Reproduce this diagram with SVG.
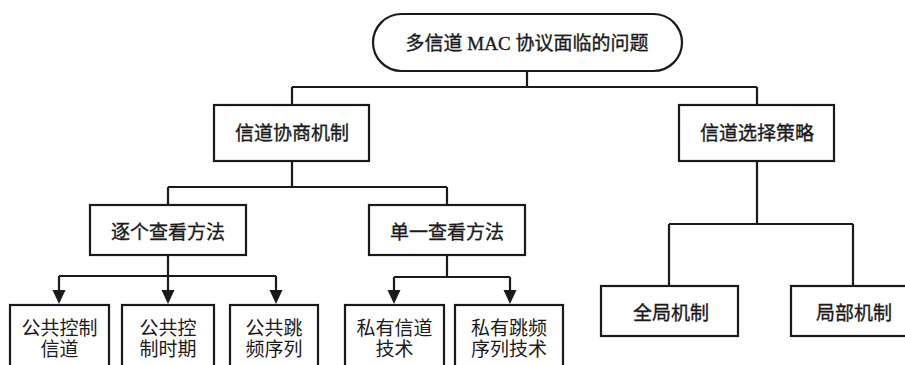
<svg xmlns="http://www.w3.org/2000/svg" width="905" height="365" viewBox="0 0 905 365">
<style>
.box{fill:#fff;stroke:#1a1a1a;stroke-width:2.2}
.ln{fill:none;stroke:#1a1a1a;stroke-width:2.2}
.ah{fill:#1a1a1a}
.t{font-family:"Liberation Serif","Noto Sans CJK SC",serif;fill:#1a1a1a;text-anchor:middle}
.t1{font-size:19px;font-weight:normal;stroke:#1a1a1a;stroke-width:0.35}
.t2{font-size:19px;font-weight:normal}
</style>
<defs>
<path id="arrow" d="M-6.5,-14 L6.5,-14 L0,0 Z"/>
</defs>
<rect width="905" height="365" fill="#fff"/>
<g id="connectors">
<path class="ln" d="M527,71 V87 M292,87 H757 M292,87 V105 M757,87 V105"/>
<path class="ln" d="M292,161 V187 M168,187 H447 M168,187 V205 M447,187 V205"/>
<path class="ln" d="M757,161 V224 M669,224 H853 M669,224 V286 M853,224 V286"/>
<path class="ln" d="M168,255 V276 M59,276 H276 M59,276 V292 M168,276 V292 M276,276 V292"/>
<path class="ln" d="M447,255 V277 M394,277 H510 M394,277 V292 M510,277 V292"/>
<use href="#arrow" class="ah" x="59" y="304"/>
<use href="#arrow" class="ah" x="168" y="304"/>
<use href="#arrow" class="ah" x="276" y="304"/>
<use href="#arrow" class="ah" x="394" y="304"/>
<use href="#arrow" class="ah" x="510" y="304"/>
</g>
<g id="root">
<rect class="box" x="373" y="14" width="309" height="57" rx="28.5" ry="28.5"/>
<text class="t t1" x="527" y="50">多信道 MAC 协议面临的问题</text>
</g>
<g id="n_negotiation">
<rect class="box" x="214" y="105" width="155" height="56"/>
<text class="t t1" x="292" y="140">信道协商机制</text>
</g>
<g id="n_selection">
<rect class="box" x="679" y="105" width="155" height="56"/>
<text class="t t1" x="757" y="140">信道选择策略</text>
</g>
<g id="n_onebyone">
<rect class="box" x="90" y="205" width="156" height="50"/>
<text class="t t1" x="168" y="239">逐个查看方法</text>
</g>
<g id="n_single">
<rect class="box" x="369" y="205" width="156" height="50"/>
<text class="t t1" x="447" y="239">单一查看方法</text>
</g>
<g id="n_global">
<rect class="box" x="601" y="286" width="137" height="50"/>
<text class="t t1" x="671" y="320">全局机制</text>
</g>
<g id="n_local">
<rect class="box" x="791" y="286" width="137" height="50"/>
<text class="t t1" x="854" y="320">局部机制</text>
</g>
<g id="n_ccc">
<rect class="box" x="10" y="305" width="99" height="80"/>
<text class="t t2" x="59.5" y="335">公共控制</text>
<text class="t t2" x="59.5" y="356">信道</text>
</g>
<g id="n_ccp">
<rect class="box" x="122" y="305" width="92" height="80"/>
<text class="t t2" x="168" y="335">公共控</text>
<text class="t t2" x="168" y="356">制时期</text>
</g>
<g id="n_chs">
<rect class="box" x="230" y="305" width="88" height="80"/>
<text class="t t2" x="274" y="335">公共跳</text>
<text class="t t2" x="274" y="356">频序列</text>
</g>
<g id="n_pct">
<rect class="box" x="345" y="305" width="99" height="80"/>
<text class="t t2" x="394.5" y="335">私有信道</text>
<text class="t t2" x="394.5" y="356">技术</text>
</g>
<g id="n_phs">
<rect class="box" x="455" y="305" width="108" height="80"/>
<text class="t t2" x="509" y="335">私有跳频</text>
<text class="t t2" x="509" y="356">序列技术</text>
</g>
</svg>
